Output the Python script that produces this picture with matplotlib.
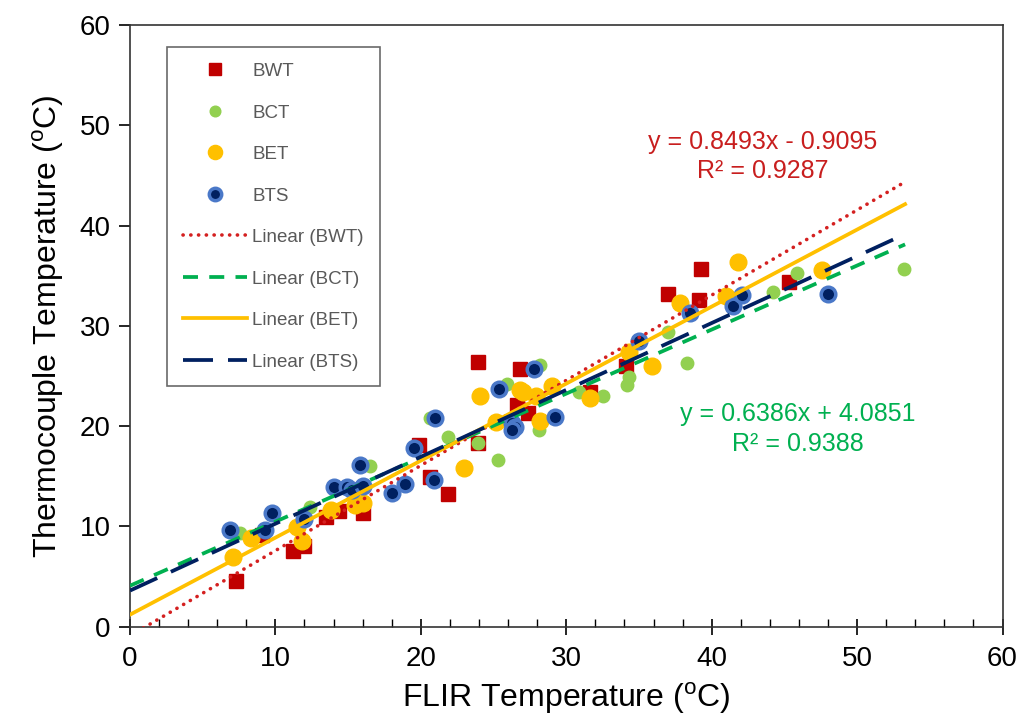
import matplotlib.pyplot as plt
import numpy as np
from matplotlib.ticker import MultipleLocator

plt.rcParams['font.family'] = ['Liberation Sans', 'DejaVu Sans']
plt.rcParams['mathtext.fontset'] = 'custom'
plt.rcParams['mathtext.rm'] = 'Liberation Sans'

# data
bwt_x = [7.3, 9.1, 11.2, 12.0, 13.5, 14.4, 16.0, 19.9, 20.6, 21.9, 23.9, 23.9, 26.6, 26.8, 27.4, 31.6, 34.1, 37.0, 39.1, 39.3, 45.3]
bwt_y = [4.6, 9.1, 7.5, 8.0, 10.9, 11.5, 11.3, 18.1, 14.9, 13.2, 26.4, 18.3, 22.1, 25.7, 21.3, 23.4, 26.0, 33.2, 32.6, 35.7, 34.4]

bct_x = [7.6, 12.4, 16.5, 20.6, 21.9, 23.9, 25.3, 25.9, 28.1, 28.2, 30.9, 32.5, 34.2, 34.3, 37.0, 38.3, 44.2, 45.9, 53.2]
bct_y = [9.3, 11.9, 16.0, 20.8, 18.9, 18.3, 16.6, 24.2, 19.6, 26.1, 23.4, 23.0, 24.1, 24.9, 29.4, 26.3, 33.4, 35.3, 35.7]

bet_x = [7.1, 8.3, 11.5, 11.8, 13.8, 15.5, 16.0, 23.0, 24.1, 25.2, 26.8, 27.0, 27.9, 28.2, 29.0, 31.6, 34.3, 35.9, 37.8, 41.0, 41.8, 47.6]
bet_y = [7.0, 8.8, 9.9, 8.5, 11.6, 12.1, 12.3, 15.8, 23.0, 20.4, 23.6, 23.4, 23.0, 20.5, 24.0, 22.8, 27.4, 26.0, 32.3, 33.0, 36.4, 35.6]

bts_x = [6.9, 9.3, 9.8, 12.0, 14.0, 14.9, 15.3, 15.8, 16.0, 18.0, 18.9, 19.5, 20.9, 21.0, 25.4, 26.3, 26.5, 26.3, 27.8, 29.2, 35.0, 38.5, 41.5, 42.1, 48.0]
bts_y = [9.6, 9.6, 11.3, 10.7, 13.9, 13.9, 13.6, 16.1, 14.0, 13.3, 14.2, 17.8, 14.6, 20.8, 23.7, 20.3, 19.9, 19.6, 25.7, 20.9, 28.5, 31.3, 32.0, 33.1, 33.2]

# trendline coefficients (slope, intercept)
fit_bwt = (0.8493, -0.9095)
fit_bct = (0.6386, 4.0851)
fit_bet = (0.768, 1.2)
fit_bts = (0.667, 3.6)

fig = plt.figure(figsize=(10.21, 7.23), dpi=100)
ax = fig.add_axes([0.1273, 0.1332, 0.8546, 0.8322])

ax.plot(bwt_x, bwt_y, 's', ms=10, color='#C00000', mec='#C00000', label='BWT', zorder=3)
ax.plot(bct_x, bct_y, 'o', ms=9, color='#92D050', mec='#92D050', label='BCT', zorder=3)
ax.plot(bet_x, bet_y, 'o', ms=12, color='#FFC000', mec='#FFC000', label='BET', zorder=3)
ax.plot(bts_x, bts_y, 'o', ms=10.5, color='#002060', mec='#4a78c8', mew=2.5, label='BTS', zorder=3)

xs = np.array([0, 53.3])
ax.plot(xs, fit_bwt[0] * xs + fit_bwt[1], color='#D42020', lw=2.6, linestyle=(0, (0.05, 2.1)),
        dash_capstyle='round', label='Linear (BWT)', zorder=4)
ax.plot(xs, fit_bct[0] * xs + fit_bct[1], color='#00B050', lw=2.7, linestyle=(0, (4, 3)),
        label='Linear (BCT)', zorder=4)
ax.plot(xs, fit_bet[0] * xs + fit_bet[1], color='#FFC000', lw=2.7, linestyle='-',
        label='Linear (BET)', zorder=4)
ax.plot(xs, fit_bts[0] * xs + fit_bts[1], color='#002060', lw=2.7, linestyle=(0, (8, 4)),
        label='Linear (BTS)', zorder=4)

ax.text(43.5, 46.9, 'y = 0.8493x - 0.9095\nR² = 0.9287', color='#C81E1E', fontsize=18,
        ha='center', va='center', multialignment='center', linespacing=1.3)
ax.text(45.9, 19.7, 'y = 0.6386x + 4.0851\nR² = 0.9388', color='#00B050', fontsize=18,
        ha='center', va='center', multialignment='center', linespacing=1.3)

ax.set_xlim(0, 60)
ax.set_ylim(0, 60)
ax.xaxis.set_major_locator(MultipleLocator(10))
ax.xaxis.set_minor_locator(MultipleLocator(2))
ax.yaxis.set_major_locator(MultipleLocator(10))
ax.tick_params(axis='x', which='major', direction='inout', length=12, width=1.2, labelsize=20, pad=8)
ax.tick_params(axis='x', which='minor', direction='in', length=6, width=1)
ax.tick_params(axis='y', which='major', direction='out', length=8, width=1.2, labelsize=20, pad=6)
for s in ax.spines.values():
    s.set_color('#333333')
    s.set_linewidth(1.2)

ax.set_xlabel(r'FLIR Temperature ($^{\mathrm{o}}$C)', fontsize=23, labelpad=6)
ax.set_ylabel(r'Thermocouple Temperature ($^{\mathrm{o}}$C)', fontsize=23, labelpad=10)

leg = ax.legend(loc='upper left', bbox_to_anchor=(0.0424, 0.9635), borderaxespad=0, fontsize=13.5,
                frameon=True, fancybox=False, edgecolor='#444444', handlelength=3.4, labelspacing=1.3,
                borderpad=0.85, handletextpad=0.3, markerscale=0.85)
leg.get_frame().set_linewidth(1.2)
for t in leg.get_texts():
    t.set_color('#595959')

fig.savefig('out.png', dpi=100)
